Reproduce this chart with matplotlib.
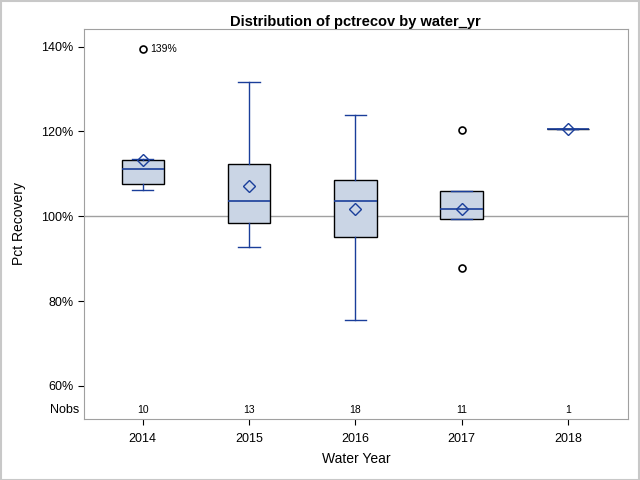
import matplotlib
matplotlib.use("Agg")
import matplotlib.pyplot as plt
from matplotlib.ticker import FuncFormatter

plt.rcParams["font.family"] = ["Liberation Sans", "DejaVu Sans"]

years = ["2014", "2015", "2016", "2017", "2018"]
nobs = [10, 13, 18, 11, 1]
q1 = [107.5, 98.5, 95.2, 99.4, 120.6]
median = [111.1, 103.7, 103.5, 101.8, 120.6]
q3 = [113.2, 112.4, 108.6, 105.9, 120.6]
means = [113.2, 107.2, 101.6, 101.6, 120.6]
whis_lo = [106.1, 92.7, 75.6, 99.4, 120.6]
whis_hi = [113.6, 131.7, 123.8, 105.9, 120.6]
outliers = [[139.5], [], [], [120.3, 87.9], []]

blue = "#1A3E9A"
fill = "#CAD5E5"

stats = []
for i in range(len(years)):
    stats.append({
        "med": median[i], "q1": q1[i], "q3": q3[i], "mean": means[i],
        "whislo": whis_lo[i], "whishi": whis_hi[i], "fliers": outliers[i],
    })

fig = plt.figure(figsize=(6.4, 4.8), dpi=100)
fig.patches.append(plt.Rectangle((0.001, 0.001), 0.997, 0.997, transform=fig.transFigure,
                                 fill=False, edgecolor="#C8C8C8", linewidth=1.5))
ax = fig.add_axes([0.131, 0.127, 0.85, 0.813])

pos = list(range(len(years)))
ax.axhline(100, color="#A0A0A0", linewidth=1, zorder=1)
ax.bxp(stats, positions=pos, widths=0.4, patch_artist=True, showmeans=True,
       boxprops=dict(facecolor=fill, edgecolor="black", linewidth=1),
       medianprops=dict(color=blue, linewidth=1.2),
       whiskerprops=dict(color=blue, linewidth=1),
       capprops=dict(color=blue, linewidth=1),
       capwidths=0.2,
       meanprops=dict(marker="D", markerfacecolor="none", markeredgecolor=blue,
                      markersize=6, markeredgewidth=1),
       flierprops=dict(marker="o", markerfacecolor="none", markeredgecolor="black",
                       markersize=5, markeredgewidth=1.2),
       zorder=3)

ax.text(0 + 0.07, outliers[0][0], "139%", fontsize=7.5, va="center", ha="left")

for i, n in enumerate(nobs):
    ax.text(i, 54.4, str(n), fontsize=7.5, ha="center", va="center")
ax.text(-0.6, 54.4, "Nobs", fontsize=9, ha="right", va="center", clip_on=False)

ax.set_xlim(-0.555, 4.565)
ax.set_ylim(52.2, 144.2)
ax.set_yticks([60, 80, 100, 120, 140])
ax.yaxis.set_major_formatter(FuncFormatter(lambda v, p: f"{v:.0f}%"))
ax.set_xticks(pos)
ax.set_xticklabels(years)
ax.tick_params(labelsize=9, colors="black", length=4, width=0.8)
ax.tick_params(axis="x", pad=6)
for s in ax.spines.values():
    s.set_color("#A0A0A0")

ax.set_title("Distribution of pctrecov by water_yr", fontsize=10.5, fontweight="bold", pad=-1)
ax.set_xlabel("Water Year", fontsize=10, labelpad=5)
ax.set_ylabel("Pct Recovery", fontsize=10, labelpad=11)

fig.savefig("out.png", dpi=100)
